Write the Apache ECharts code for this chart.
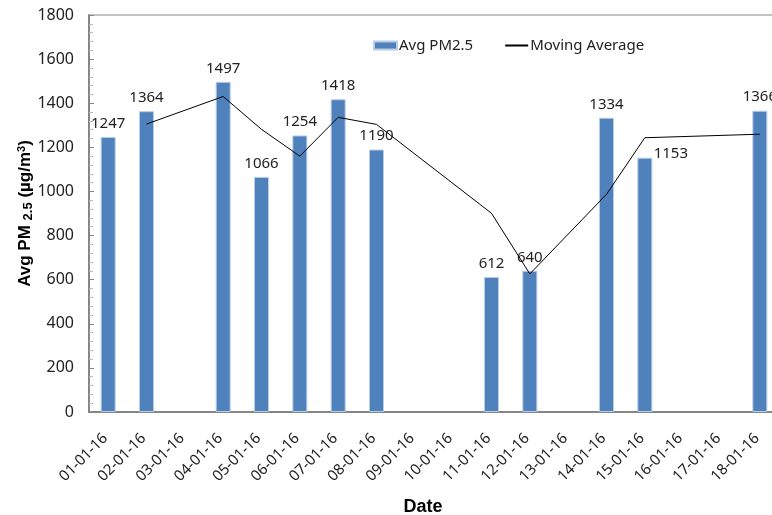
<!DOCTYPE html>
<html>
<head>
<meta charset="utf-8">
<script src="https://cdn.jsdelivr.net/npm/echarts@6/dist/echarts.min.js"></script>
<style>
  html, body { margin: 0; padding: 0; background: #fff; overflow: hidden; }
  /* the original plot runs past the right edge of the picture */
  #chart { width: 782px; height: 515px; }
</style>
</head>
<body>
<div id="chart"></div>
<script>
const dates = ['01-01-16', '02-01-16', '03-01-16', '04-01-16', '05-01-16', '06-01-16',
  '07-01-16', '08-01-16', '09-01-16', '10-01-16', '11-01-16', '12-01-16',
  '13-01-16', '14-01-16', '15-01-16', '16-01-16', '17-01-16', '18-01-16']
const avgPM25 = [1247, 1364, null, 1497, 1066, 1254, 1418, 1190, null, null, 612, 640,
  null, 1334, 1153, null, null, 1366]
const movingAvg = [null, 1305.5, null, 1430.5, 1281.5, 1160, 1336, 1304, null, null, 901, 626,
  null, 987, 1243.5, null, null, 1259.5]
const yTicks = [0, 200, 400, 600, 800, 1000, 1200, 1400, 1600, 1800]

// one label is pushed aside in the original to keep clear of the line
const labelTweaks = {
  14: { offset: [26, 10] }
}

const chart = echarts.init(document.getElementById('chart'))

const barData = avgPM25.map((v, i) => {
  if (labelTweaks[i]) return { value: v, label: labelTweaks[i] }
  return v
})

chart.setOption({
  animation: false,
  legend: {
    top: 33,
    left: 368,
    itemGap: 31,
    itemWidth: 23,
    itemHeight: 8,
    textStyle: { fontFamily: 'Noto Sans', fontSize: 15, color: '#222', padding: [0, 0, 0, -3] },
    data: [
      { name: 'Avg PM2.5', icon: 'rect' },
      { name: 'Moving Average', itemStyle: { opacity: 0 } }
    ]
  },
  grid: {
    left: 89,
    top: 15,
    right: 3,
    height: 397,
    outerBoundsMode: 'none',
    show: true,
    borderColor: '#868686',
    borderWidth: 1
  },
  xAxis: {
    type: 'category',
    data: dates,
    name: 'Date',
    nameLocation: 'middle',
    nameGap: 86,
    nameMoveOverlap: false,
    nameTextStyle: {
      fontFamily: 'Liberation Sans', fontWeight: 'bold', fontSize: 18, color: '#000',
      padding: [0, 22, 0, 0]
    },
    axisLine: { lineStyle: { color: '#868686', width: 2 } },
    axisTick: { inside: true, length: 5, lineStyle: { color: '#868686' } },
    axisLabel: {
      rotate: 45,
      interval: 0,
      margin: 21,
      padding: [0, 4, 0, 0],
      fontFamily: 'Noto Sans',
      fontSize: 15,
      color: '#222'
    }
  },
  yAxis: {
    type: 'value',
    min: 0,
    max: 1800,
    interval: 200,
    name: 'Avg PM {s|2.5} (µg/m{sup|3})',
    nameLocation: 'middle',
    nameRotate: 90,
    nameGap: 54,
    nameMoveOverlap: false,
    nameTextStyle: {
      fontFamily: 'Liberation Sans', fontWeight: 'bold', fontSize: 17, color: '#000',
      rich: {
        s: { fontFamily: 'Liberation Sans', fontWeight: 'bold', fontSize: 13, color: '#000', verticalAlign: 'bottom' },
        sup: { fontFamily: 'Liberation Sans', fontWeight: 'bold', fontSize: 11, color: '#000', verticalAlign: 'top', padding: [0, 0, 8, 0] }
      }
    },
    axisLine: { show: true, lineStyle: { color: '#868686', width: 2 } },
    axisTick: { show: true, inside: true, length: 5, lineStyle: { color: '#868686' } },
    minorTick: { show: true, splitNumber: 5, length: 4, lineStyle: { color: '#bbb' } },
    splitLine: { show: false },
    axisLabel: {
      margin: 15,
      fontFamily: 'Noto Sans',
      fontSize: 16,
      color: '#222',
      formatter: v => (yTicks.includes(v) ? String(v) : '')
    }
  },
  series: [
    {
      name: 'Avg PM2.5',
      type: 'bar',
      data: barData,
      barWidth: 15,
      itemStyle: { color: '#4F81BD', borderColor: '#b9cde5', borderWidth: 1 },
      label: {
        show: true,
        position: 'top',
        distance: 6,
        fontFamily: 'Noto Sans',
        fontSize: 15,
        color: '#222'
      }
    },
    {
      name: 'Moving Average',
      type: 'line',
      data: movingAvg,
      connectNulls: true,
      showSymbol: false,
      symbol: 'none',
      lineStyle: { color: '#000', width: 1 },
      itemStyle: { color: '#000' },
      z: 3
    }
  ]
})
</script>
</body>
</html>
